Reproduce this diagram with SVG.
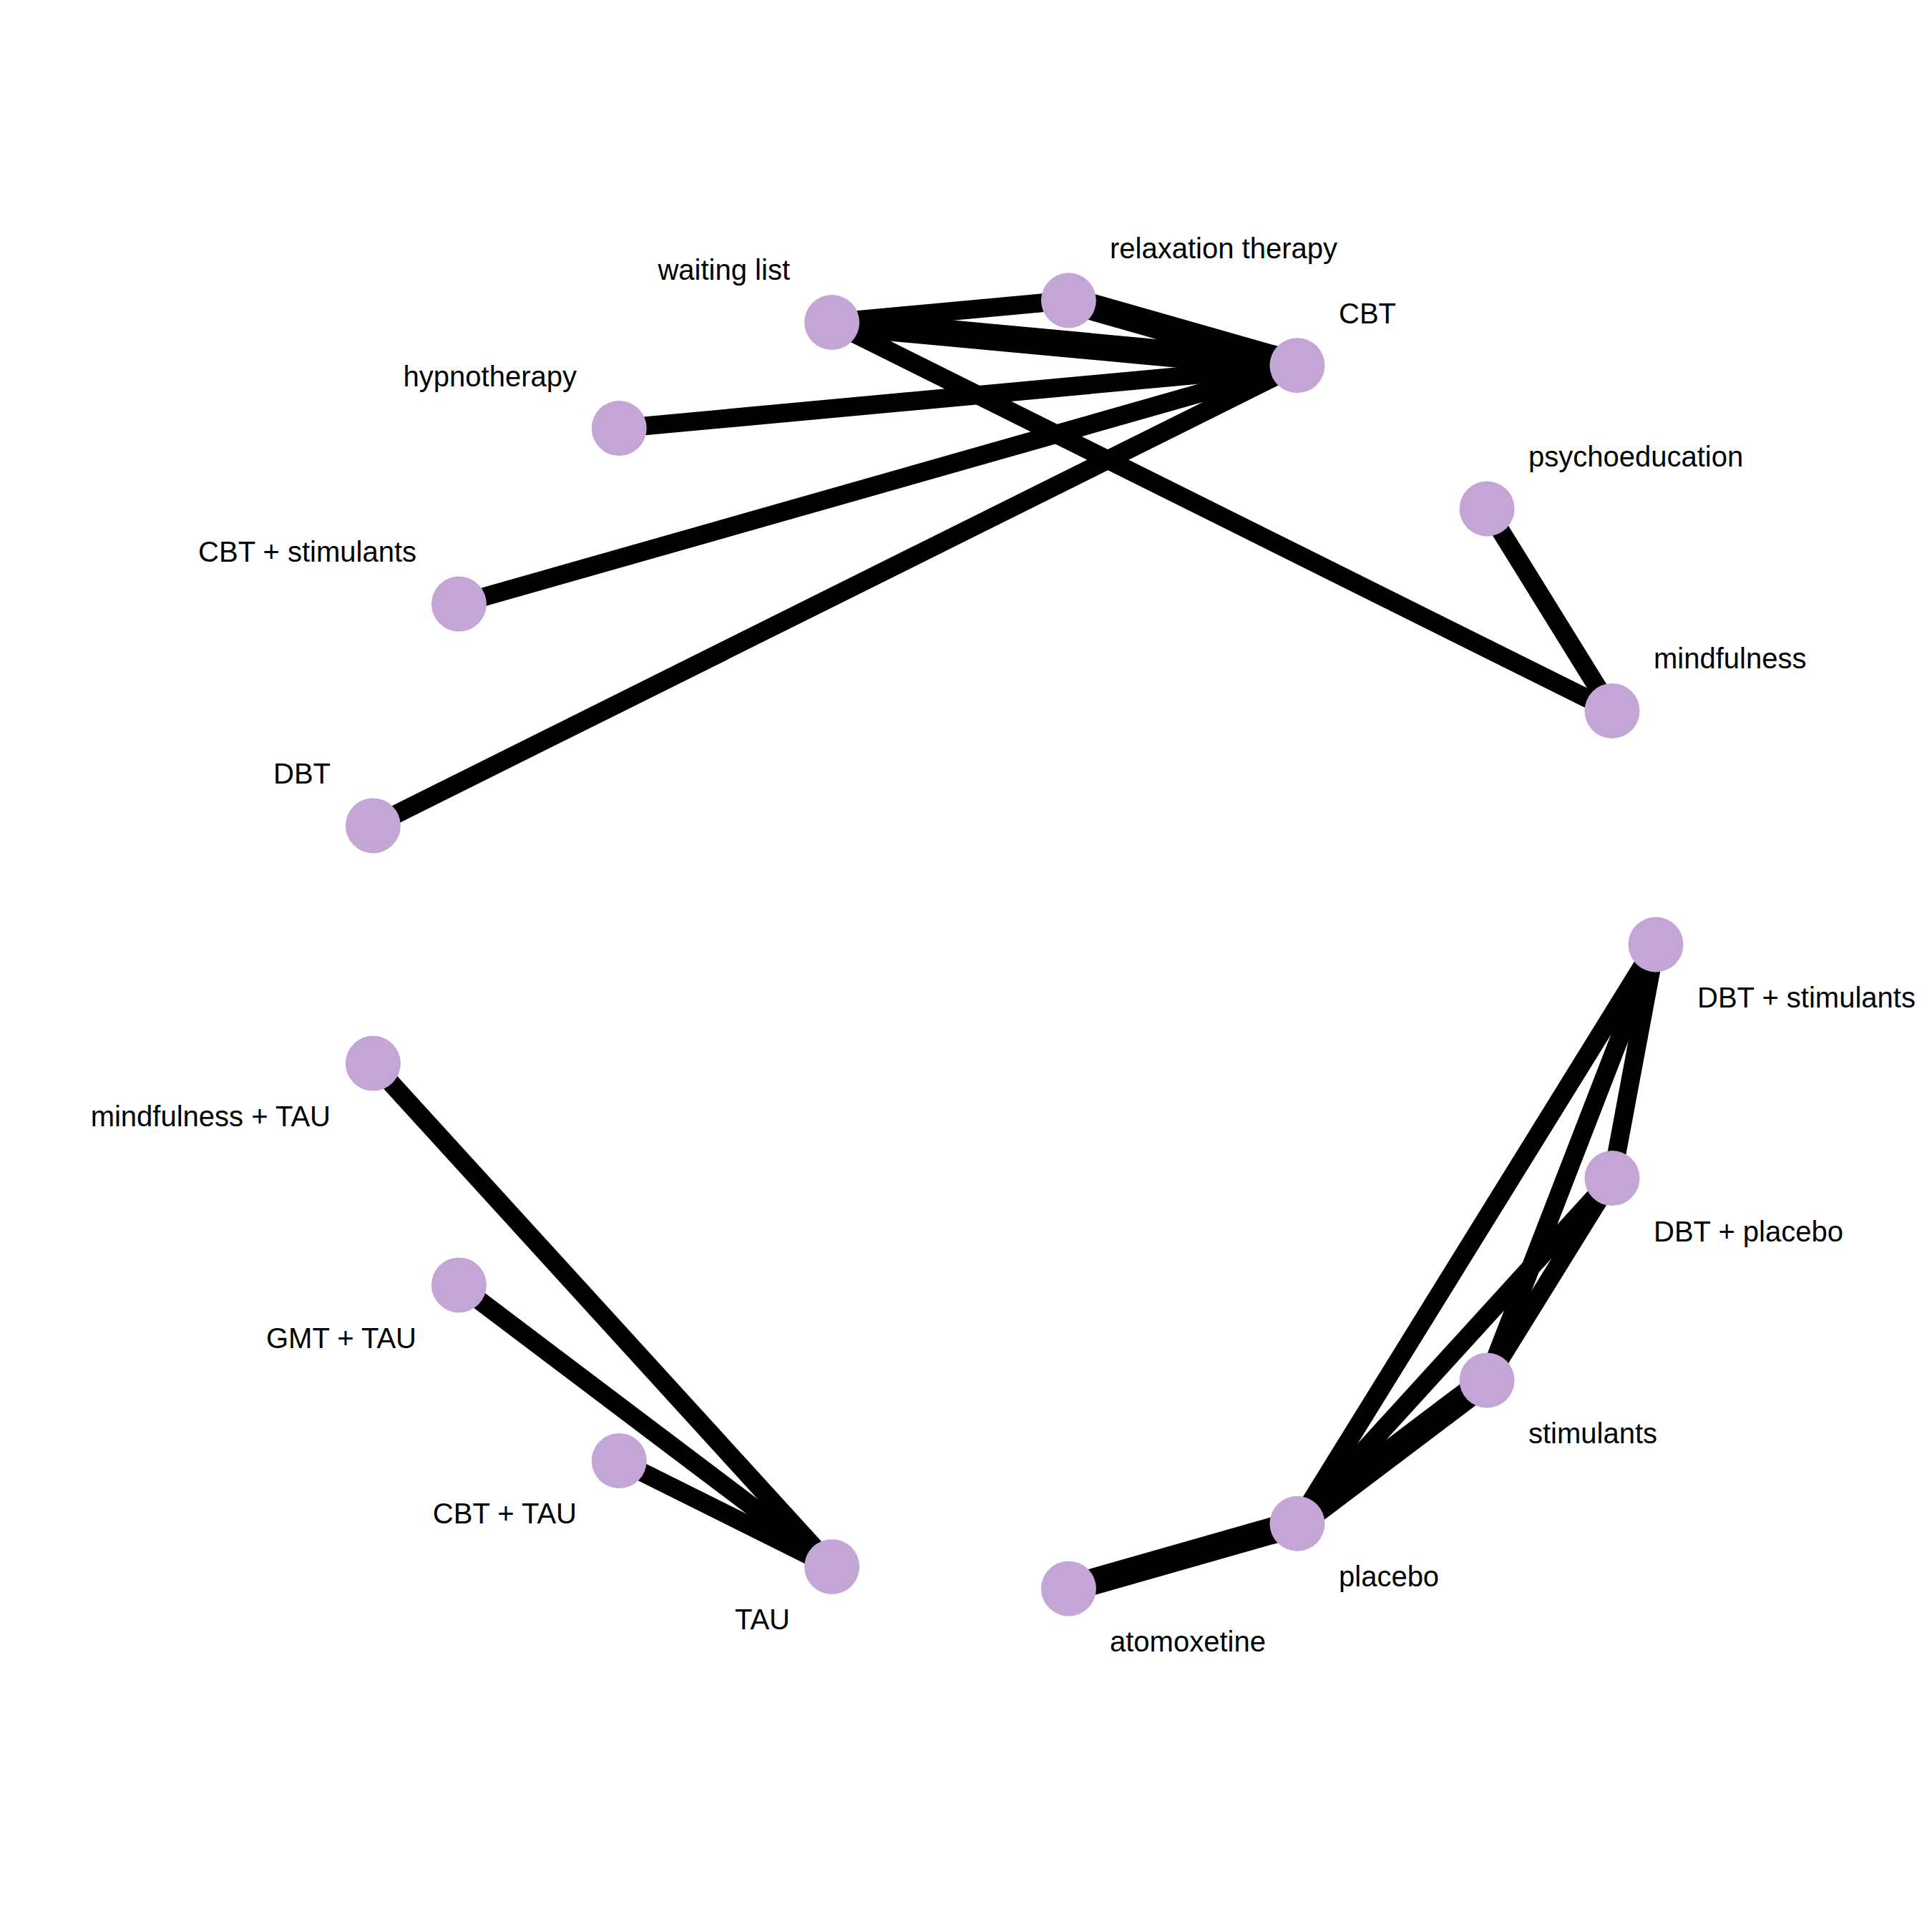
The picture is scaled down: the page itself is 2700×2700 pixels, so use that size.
<svg xmlns="http://www.w3.org/2000/svg" width="2700" height="2700" viewBox="0 0 2700 2700">
  <style>
    .edge { stroke: #000000; stroke-width: 26; stroke-linecap: butt; fill: none; }
    .edge.heavy { stroke-width: 37; }
    .node circle { fill: #C3A5D6; }
    .node text { font-family: "Liberation Sans", Arial, sans-serif; font-size: 40px; fill: #000000; }
    .r { text-anchor: start; }
    .l { text-anchor: end; }
  </style>
  <rect width="2700" height="2700" fill="#FFFFFF"/>

  <!-- connectors -->
  <g id="edges">
    <line class="edge" x1="1162.61" y1="450.50" x2="1493.41" y2="419.86"/>
    <line class="edge heavy" x1="1162.61" y1="450.50" x2="1812.94" y2="510.77"/>
    <line class="edge heavy" x1="1493.41" y1="419.86" x2="1812.94" y2="510.77"/>
    <line class="edge" x1="865.22" y1="598.59" x2="1812.94" y2="510.77"/>
    <line class="edge" x1="641.40" y1="844.11" x2="1812.94" y2="510.77"/>
    <line class="edge" x1="521.39" y1="1153.89" x2="1812.94" y2="510.77"/>
    <line class="edge" x1="1162.61" y1="450.50" x2="2252.95" y2="993.44"/>
    <line class="edge" x1="2078.07" y1="710.98" x2="2252.95" y2="993.44"/>

    <line class="edge" x1="2314.00" y1="1320.00" x2="1812.94" y2="2129.23"/>
    <line class="edge" x1="2314.00" y1="1320.00" x2="2078.07" y2="1929.02"/>
    <line class="edge" x1="2314.00" y1="1320.00" x2="2252.95" y2="1646.56"/>
    <line class="edge" x1="2252.95" y1="1646.56" x2="1812.94" y2="2129.23"/>
    <line class="edge" x1="2252.95" y1="1646.56" x2="2078.07" y2="1929.02"/>
    <line class="edge heavy" x1="2078.07" y1="1929.02" x2="1812.94" y2="2129.23"/>
    <line class="edge heavy" x1="1493.41" y1="2220.14" x2="1812.94" y2="2129.23"/>

    <line class="edge" x1="521.39" y1="1486.11" x2="1162.61" y2="2189.50"/>
    <line class="edge" x1="641.40" y1="1795.89" x2="1162.61" y2="2189.50"/>
    <line class="edge" x1="865.22" y1="2041.41" x2="1162.61" y2="2189.50"/>
  </g>

  <!-- nodes on a circle, centre (1410,1320), radius 904 -->
  <g id="node-dbt-stimulants" class="node">
    <circle cx="2314.00" cy="1320.00" r="38.5"/>
    <text class="r" x="2372" y="1408">DBT + stimulants</text>
  </g>
  <g id="node-mindfulness" class="node">
    <circle cx="2252.95" cy="993.44" r="38.5"/>
    <text class="r" x="2311" y="934">mindfulness</text>
  </g>
  <g id="node-psychoeducation" class="node">
    <circle cx="2078.07" cy="710.98" r="38.5"/>
    <text class="r" x="2136" y="652">psychoeducation</text>
  </g>
  <g id="node-cbt" class="node">
    <circle cx="1812.94" cy="510.77" r="38.5"/>
    <text class="r" x="1871" y="452">CBT</text>
  </g>
  <g id="node-relaxation-therapy" class="node">
    <circle cx="1493.41" cy="419.86" r="38.5"/>
    <text class="r" x="1551" y="361">relaxation therapy</text>
  </g>
  <g id="node-waiting-list" class="node">
    <circle cx="1162.61" cy="450.50" r="38.5"/>
    <text class="l" x="1104" y="391">waiting list</text>
  </g>
  <g id="node-hypnotherapy" class="node">
    <circle cx="865.22" cy="598.59" r="38.5"/>
    <text class="l" x="806" y="540">hypnotherapy</text>
  </g>
  <g id="node-cbt-stimulants" class="node">
    <circle cx="641.40" cy="844.11" r="38.5"/>
    <text class="l" x="582" y="785">CBT + stimulants</text>
  </g>
  <g id="node-dbt" class="node">
    <circle cx="521.39" cy="1153.89" r="38.5"/>
    <text class="l" x="462" y="1095">DBT</text>
  </g>
  <g id="node-mindfulness-tau" class="node">
    <circle cx="521.39" cy="1486.11" r="38.5"/>
    <text class="l" x="462" y="1574">mindfulness + TAU</text>
  </g>
  <g id="node-gmt-tau" class="node">
    <circle cx="641.40" cy="1795.89" r="38.5"/>
    <text class="l" x="582" y="1884">GMT + TAU</text>
  </g>
  <g id="node-cbt-tau" class="node">
    <circle cx="865.22" cy="2041.41" r="38.5"/>
    <text class="l" x="806" y="2129">CBT + TAU</text>
  </g>
  <g id="node-tau" class="node">
    <circle cx="1162.61" cy="2189.50" r="38.5"/>
    <text class="l" x="1104" y="2277">TAU</text>
  </g>
  <g id="node-atomoxetine" class="node">
    <circle cx="1493.41" cy="2220.14" r="38.5"/>
    <text class="r" x="1551" y="2308">atomoxetine</text>
  </g>
  <g id="node-placebo" class="node">
    <circle cx="1812.94" cy="2129.23" r="38.5"/>
    <text class="r" x="1871" y="2217">placebo</text>
  </g>
  <g id="node-stimulants" class="node">
    <circle cx="2078.07" cy="1929.02" r="38.5"/>
    <text class="r" x="2136" y="2017">stimulants</text>
  </g>
  <g id="node-dbt-placebo" class="node">
    <circle cx="2252.95" cy="1646.56" r="38.5"/>
    <text class="r" x="2311" y="1735">DBT + placebo</text>
  </g>
</svg>
